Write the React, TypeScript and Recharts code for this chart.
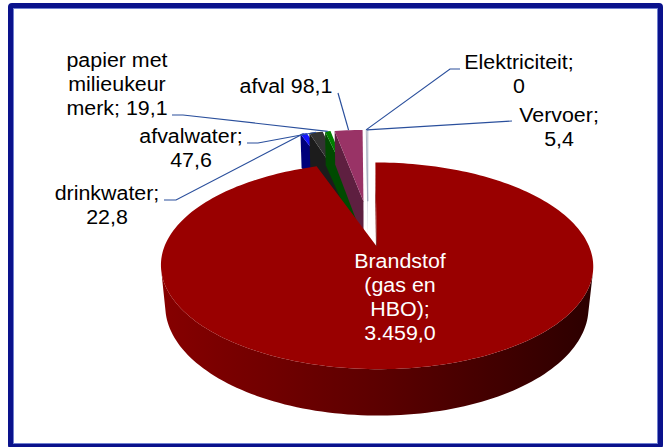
import React from "react";
import { PieChart, Pie } from "recharts";

// chart data
const categories = [
  "Brandstof (gas en HBO)",
  "drinkwater",
  "afvalwater",
  "papier met milieukeur merk",
  "afval",
  "Elektriciteit",
  "Vervoer",
];
const values = [3459.0, 22.8, 47.6, 19.1, 98.1, 0, 5.4];

const fmt = (v: number) => {
  if (v === 0) return "0";
  const [int, dec] = v.toFixed(1).split(".");
  return int.replace(/\B(?=(\d{3})+(?!\d))/g, ".") + "," + dec;
};

// label text as it is wrapped in the original
const labelLines = [
  ["Brandstof", "(gas en", "HBO);", fmt(values[0])],
  ["drinkwater;", fmt(values[1])],
  ["afvalwater;", fmt(values[2])],
  ["papier met", "milieukeur", "merk; " + fmt(values[3])],
  ["afval " + fmt(values[4])],
  ["Elektriciteit;", fmt(values[5])],
  ["Vervoer;", fmt(values[6])],
];

// styles
const topColors = ["#990000", "#1414ff", "#333333", "#008000", "#993366", "#ffffff", "#ffffff"];
const sideColors = ["url(#wallGrad)", "#00007a", "#1c1c1c", "#004a00", "#5e1f40", "#d8d8e0", "#cfd0da"];

// label placement (center x, first line center y) and leader line start points
const labelSpots = [
  [400, 261],
  [107, 193],
  [191, 136],
  [117, 60],
  [286, 86],
  [519, 62],
  [559, 115],
];
const leaderStart: number[][][] = [
  [],
  [[164, 200], [176, 200]],
  [[247, 143], [258, 143]],
  [[172, 115], [183, 115]],
  [[338, 93]],
  [[460, 69], [450, 69]],
  [[512, 121]],
];

const rows = categories.map((name, i) => ({ name, value: values[i], idx: i }));

// fake 3d projection
const DIST = 5;
const COS_T = 0.893;
const SIN_T = 0.449;
const DEPTH = 0.22;
const EXPLODE = 0.25;
const CX = 368;
const CY = 223;
const RAD = 203;

const cosd = (a: number) => Math.cos((a * Math.PI) / 180);
const sind = (a: number) => Math.sin((a * Math.PI) / 180);

const project = (cx: number, cy: number, R: number, X: number, Z: number, Y: number) => {
  const k = DIST / (DIST + Z * COS_T - Y * SIN_T);
  return [cx + R * X * k, cy - R * (Y * COS_T + Z * SIN_T) * k];
};

const faces = (nAngle: number, px: number, pz: number) =>
  cosd(nAngle) * (0 - px) + sind(nAngle) * (-DIST * COS_T - pz) > 0;

const toPath = (pts: number[][]) =>
  "M" + pts.map((p) => p[0].toFixed(2) + "," + p[1].toFixed(2)).join("L") + "Z";

const getIdx = (props: any) => props.idx ?? props.payload?.idx ?? props.index;

const Slice3D = (props: any, only: "big" | "small") => {
  const i = getIdx(props);
  if (only === "big" && i !== 0) return null;
  if (only === "small" && i === 0) return null;
  const { cx, cy, outerRadius, startAngle, endAngle } = props;
  if (Math.abs(endAngle - startAngle) < 1e-6) return <g />;
  const lo = Math.min(startAngle, endAngle);
  const hi = Math.max(startAngle, endAngle);
  const mid = (lo + hi) / 2;
  const ex = EXPLODE * cosd(mid);
  const ez = EXPLODE * sind(mid);
  const P = (X: number, Z: number, Y: number) => project(cx, cy, outerRadius, X, Z, Y);

  const steps = Math.max(2, Math.ceil((hi - lo) / 1.5));
  const angles: number[] = [];
  for (let s = 0; s <= steps; s++) angles.push(lo + ((hi - lo) * s) / steps);

  const top = [P(ex, ez, 0), ...angles.map((a) => P(ex + cosd(a), ez + sind(a), 0))];

  // radial faces
  const radial: React.ReactNode[] = [];
  [
    [hi, hi + 90],
    [lo, lo - 90],
  ].forEach(([a, n], k) => {
    if (faces(n, ex + 0.5 * cosd(a), ez + 0.5 * sind(a))) {
      const pts = [
        P(ex, ez, 0),
        P(ex + cosd(a), ez + sind(a), 0),
        P(ex + cosd(a), ez + sind(a), -DEPTH),
        P(ex, ez, -DEPTH),
      ];
      radial.push(<path key={"r" + k} d={toPath(pts)} fill={sideColors[i]} />);
    }
  });

  // outer wall, visible runs only
  const walls: React.ReactNode[] = [];
  let run: number[] = [];
  const flush = () => {
    if (run.length > 1) {
      const pts = [
        ...run.map((a) => P(ex + cosd(a), ez + sind(a), 0)),
        ...run
          .slice()
          .reverse()
          .map((a) => P(ex + cosd(a), ez + sind(a), -DEPTH)),
      ];
      walls.push(<path key={"w" + walls.length} d={toPath(pts)} fill={sideColors[i]} />);
    }
    run = [];
  };
  angles.forEach((a) => {
    if (faces(a, ex + cosd(a), ez + sind(a))) run.push(a);
    else flush();
  });
  flush();

  return (
    <g>
      {i === 0 && (
        <defs>
          <linearGradient id="wallGrad" x1="0" y1="0" x2="1" y2="0">
            <stop offset="0" stopColor="#860000" />
            <stop offset="0.5" stopColor="#5c0000" />
            <stop offset="1" stopColor="#2c0000" />
          </linearGradient>
        </defs>
      )}
      {radial}
      {walls}
      <path
        d={toPath(top)}
        fill={topColors[i]}
        stroke={i === 6 ? "#9aa3b8" : "none"}
        strokeWidth={i === 6 ? 0.8 : 0}
      />
    </g>
  );
};

const SliceLabel = (props: any, only: "big" | "small") => {
  const i = getIdx(props);
  if (only === "big" && i !== 0) return <g />;
  if (only === "small" && i === 0) return <g />;
  const { cx, cy, outerRadius, midAngle } = props;
  const [lx, ly] = labelSpots[i];
  const lines = labelLines[i];
  let leader = null;
  if (leaderStart[i].length) {
    const m = midAngle;
    const end = project(cx, cy, outerRadius, (1 + EXPLODE) * cosd(m), (1 + EXPLODE) * sind(m), 0);
    const pts = [...leaderStart[i], end];
    leader = (
      <polyline
        points={pts.map((p) => p[0] + "," + p[1]).join(" ")}
        fill="none"
        stroke="#2a4f9c"
        strokeWidth={1.2}
      />
    );
  }
  return (
    <g>
      {leader}
      {lines.map((t, j) => (
        <text
          key={j}
          transform={`translate(${lx},${ly + j * 24}) scale(1.07,1)`}
          textAnchor="middle"
          dominantBaseline="central"
          fontFamily="'Liberation Sans', Arial, sans-serif"
          fontSize={20}
          fill={i === 0 ? "#ffffff" : "#000000"}
        >
          {t}
        </text>
      ))}
    </g>
  );
};

export default function App() {
  return (
    <div style={{ position: "absolute", left: 0, top: 0, width: 665, height: 447, background: "#fff", overflow: "hidden" }}>
      <PieChart width={665} height={447} margin={{ top: 0, right: 0, bottom: 0, left: 0 }}>
        <Pie
          data={rows}
          dataKey="value"
          nameKey="name"
          cx={CX}
          cy={CY}
          outerRadius={RAD}
          startAngle={90}
          endAngle={-270}
          stroke="none"
          isAnimationActive={false}
          shape={(p: any) => Slice3D(p, "small")}
          inactiveShape={(p: any) => Slice3D(p, "small")}
          activeShape={(p: any) => Slice3D(p, "small")}
          label={(p: any) => SliceLabel(p, "small")}
          labelLine={false}
        />
        <Pie
          data={rows}
          dataKey="value"
          nameKey="name"
          cx={CX}
          cy={CY}
          outerRadius={RAD}
          startAngle={90}
          endAngle={-270}
          stroke="none"
          isAnimationActive={false}
          shape={(p: any) => Slice3D(p, "big")}
          inactiveShape={(p: any) => Slice3D(p, "big")}
          activeShape={(p: any) => Slice3D(p, "big")}
          label={(p: any) => SliceLabel(p, "big")}
          labelLine={false}
        />
      </PieChart>
      <div
        style={{
          position: "absolute",
          left: 8,
          top: 3,
          width: 655,
          height: 446,
          boxSizing: "border-box",
          border: "5px solid #0a128c",
          borderRadius: 4,
          boxShadow: "inset 0 0 0 1px #7080d0",
          pointerEvents: "none",
        }}
      />
    </div>
  );
}
